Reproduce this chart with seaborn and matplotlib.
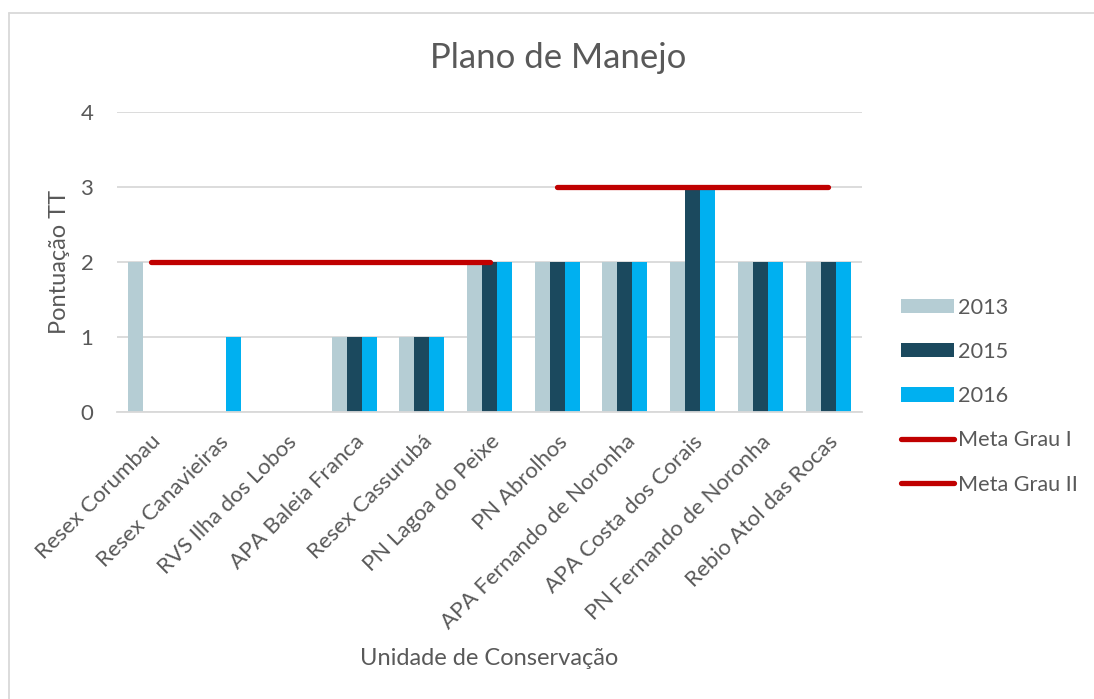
import matplotlib
matplotlib.use("Agg")
import matplotlib.pyplot as plt
from matplotlib.lines import Line2D
import numpy as np
import pandas as pd
import seaborn as sns

# --- data ---
unidades = [
    "Resex Corumbau", "Resex Canavieiras", "RVS Ilha dos Lobos",
    "APA Baleia Franca", "Resex Cassurubá", "PN Lagoa do Peixe",
    "PN Abrolhos", "APA Fernando de Noronha", "APA Costa dos Corais",
    "PN Fernando de Noronha", "Rebio Atol das Rocas",
]
anos = ["2013", "2015", "2016"]
nota_2013 = [2, 0, 0, 1, 1, 2, 2, 2, 2, 2, 2]
nota_2015 = [0, 0, 0, 1, 1, 2, 2, 2, 3, 2, 2]
nota_2016 = [0, 1, 0, 1, 1, 2, 2, 2, 3, 2, 2]
meta_grau_1 = [2, 2, 2, 2, 2, 2, np.nan, np.nan, np.nan, np.nan, np.nan]
meta_grau_2 = [np.nan, np.nan, np.nan, np.nan, np.nan, np.nan, 3, 3, 3, 3, 3]

cores = {"2013": "#B5CDD4", "2015": "#1B495E", "2016": "#00B0F0"}
vermelho = "#C00000"
cinza_txt = "#595959"
cinza_grade = "#D9D9D9"

df = pd.DataFrame({
    "unidade": unidades * 3,
    "ano": [a for a in anos for _ in unidades],
    "nota": nota_2013 + nota_2015 + nota_2016,
})

sns.set_theme(style="white")
plt.rcParams["font.family"] = ["Lato", "DejaVu Sans"]

fig = plt.figure(figsize=(10.94, 6.99), dpi=100)
ax = fig.add_axes([117 / 1094, 1 - 412 / 699, 745 / 1094, 300 / 699])

sns.barplot(data=df, x="unidade", y="nota", hue="ano", order=unidades,
            hue_order=anos, palette=cores, width=0.665, linewidth=0,
            saturation=1, ax=ax)

pos = np.arange(len(unidades))
ax.plot(pos, meta_grau_1, color=vermelho, lw=3.8, solid_capstyle="round",
        label="Meta Grau I", zorder=5)
ax.plot(pos, meta_grau_2, color=vermelho, lw=3.8, solid_capstyle="round",
        label="Meta Grau II", zorder=5)

ax.set_ylim(0, 4)
ax.set_xlim(-0.5, len(unidades) - 0.5)
ax.set_yticks([0, 1, 2, 3, 4])
ax.yaxis.grid(True, color=cinza_grade, lw=1.3)
ax.set_axisbelow(True)
for s in ["top", "right", "left"]:
    ax.spines[s].set_visible(False)
ax.spines["bottom"].set_color(cinza_grade)
ax.spines["bottom"].set_linewidth(1.3)
ax.tick_params(axis="both", length=0, colors=cinza_txt, labelsize=16)
ax.tick_params(axis="y", pad=17)
ax.tick_params(axis="x", pad=14)
plt.setp(ax.get_xticklabels(), rotation=45, ha="right", rotation_mode="anchor")

ax.set_ylabel("Pontuação TT", fontsize=17, color=cinza_txt)
ax.yaxis.set_label_coords((70 - 117) / 745, 0.5)
ax.set_xlabel("Unidade de Conservação", fontsize=17, color=cinza_txt)
ax.xaxis.set_label_coords((489 - 117) / 745, (412 - 648) / 300)

fig.text(558 / 1094, 1 - 58 / 699, "Plano de Manejo", fontsize=25,
         color=cinza_txt, ha="center", va="center")

handles, labels = ax.get_legend_handles_labels()
ax.legend(handles, labels, loc="upper left",
          bbox_to_anchor=(881 / 1094, 1 - 278 / 699),
          bbox_transform=fig.transFigure, frameon=False, fontsize=15.6,
          labelcolor=cinza_txt, handlelength=2.45, handleheight=0.65,
          handletextpad=0.2, labelspacing=1.12)

# moldura da area do grafico (so esquerda e topo aparecem)
fig.add_artist(Line2D([9 / 1094, 9 / 1094], [0, 1 - 13 / 699],
                      color=cinza_grade, lw=1.3, transform=fig.transFigure))
fig.add_artist(Line2D([9 / 1094, 1], [1 - 13 / 699, 1 - 13 / 699],
                      color=cinza_grade, lw=1.3, transform=fig.transFigure))

fig.savefig("out.png", dpi=100)
